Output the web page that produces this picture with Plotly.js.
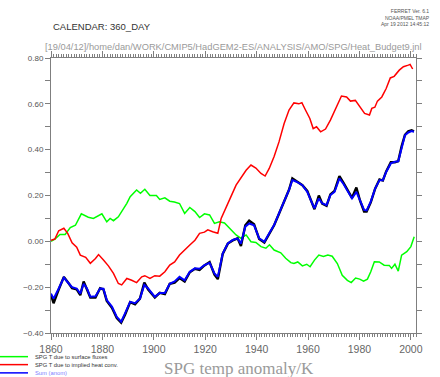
<!DOCTYPE html>
<html>
<head>
<meta charset="utf-8">
<script src="https://cdn.plot.ly/plotly-3.0.1.min.js"></script>
<style>html,body{margin:0;padding:0;background:#fff;}#chart{width:440px;height:377px;}</style>
</head>
<body>
<div id="chart"></div>
<script>
// ---- data ----
const greenYears = [1860,1861.5,1863.5,1865.5,1867.5,1869.5,1871.8,1874.5,1876.5,1878.5,1879.8,1881.7,1883,1884.3,1886.2,1889.5,1890.8,1893.3,1894.8,1896.5,1898.5,1901,1902.3,1904.3,1906.2,1908,1910,1912,1914,1916,1917.8,1919.7,1921.7,1923.6,1925.5,1927.5,1929.4,1932,1933.9,1935.9,1937.8,1939.7,1941.7,1943.6,1945,1946.8,1949.4,1951.3,1953.3,1954.5,1956,1957.8,1959.5,1960.8,1962.5,1964.2,1966,1967.7,1969.4,1971.4,1973.3,1975.3,1976.8,1978.5,1980.1,1981.6,1983.1,1984.4,1985.8,1987.7,1989.6,1991.6,1992.5,1993.8,1995.1,1996.4,1998.4,2000,2001.3];
const greenVals = [0.00,0.01,0.03,0.03,0.06,0.07,0.12,0.105,0.10,0.11,0.12,0.085,0.10,0.09,0.107,0.166,0.195,0.224,0.21,0.227,0.20,0.20,0.183,0.19,0.175,0.172,0.165,0.122,0.148,0.13,0.104,0.12,0.115,0.078,0.085,0.08,0.057,0.028,0.013,0.028,-0.002,-0.005,-0.023,-0.03,-0.015,-0.038,-0.05,-0.074,-0.093,-0.097,-0.09,-0.107,-0.10,-0.111,-0.082,-0.06,-0.066,-0.06,-0.065,-0.097,-0.148,-0.17,-0.18,-0.16,-0.165,-0.174,-0.165,-0.133,-0.089,-0.09,-0.104,-0.105,-0.118,-0.10,-0.13,-0.06,-0.045,-0.023,0.02];

const redYears = [1860,1861.5,1863,1865,1866.5,1868.2,1870,1871.4,1873.5,1875.3,1877.3,1878.5,1880.5,1882.4,1884.3,1886.2,1887.5,1889.5,1891.4,1893.3,1895.3,1896.5,1898.5,1900.4,1902.3,1904.3,1906.2,1908.1,1910,1912,1914,1916,1917.8,1919.7,1921,1922.9,1924.9,1926.2,1928.1,1930,1932,1933.9,1935.9,1937.8,1939.7,1941.7,1943.3,1944.9,1946.8,1948.7,1950.7,1952.6,1954.5,1956.4,1957.6,1959,1960.7,1962,1963.3,1964.9,1966.8,1968.7,1970.7,1973,1975,1976.5,1978.4,1980.3,1982,1983.9,1984.8,1986,1987,1988.7,1990.4,1992,1993.5,1995.5,1997.1,1999,1999.7,2000.7];
const redVals = [0.005,0.01,0.046,0.057,0.035,-0.006,-0.026,-0.06,-0.07,-0.096,-0.075,-0.058,-0.083,-0.108,-0.14,-0.184,-0.19,-0.162,-0.17,-0.18,-0.155,-0.15,-0.162,-0.15,-0.152,-0.133,-0.104,-0.09,-0.06,-0.04,-0.016,0.005,0.035,0.04,0.05,0.042,0.035,0.10,0.144,0.195,0.245,0.275,0.31,0.333,0.32,0.296,0.285,0.318,0.37,0.434,0.514,0.573,0.604,0.60,0.605,0.573,0.536,0.492,0.50,0.478,0.49,0.529,0.58,0.634,0.63,0.612,0.615,0.587,0.558,0.551,0.58,0.585,0.612,0.63,0.667,0.713,0.72,0.747,0.762,0.769,0.772,0.752];

const sumYears = [1860,1861,1863,1865,1867,1868.2,1870,1871.4,1872.7,1874,1875.3,1877.3,1879.1,1880.4,1881.7,1883.7,1885.6,1887.3,1888.8,1890.8,1892.7,1894.6,1896.3,1897.8,1900.4,1902.3,1904.3,1906.2,1908.1,1910,1912,1914,1916,1917.8,1919.7,1921.7,1923.6,1924.9,1926.8,1928.8,1930.7,1932.6,1933.9,1935.6,1937.1,1939,1941,1943,1944.9,1946.8,1948.7,1950.7,1952.6,1953.9,1955.5,1957.8,1959.7,1961.6,1962.5,1964.2,1965.5,1967.2,1968.7,1970.3,1972.2,1973.8,1975.5,1977.1,1978.8,1980.3,1981.8,1982.8,1984.4,1986.1,1987.8,1989.1,1990.4,1992.2,1993.8,1995.1,1996.4,1997.7,1999,2000.3,2001.2];
const sumVals = [-0.228,-0.25,-0.206,-0.158,-0.185,-0.20,-0.206,-0.228,-0.185,-0.206,-0.242,-0.24,-0.206,-0.207,-0.256,-0.285,-0.33,-0.351,-0.314,-0.264,-0.27,-0.25,-0.19,-0.206,-0.242,-0.225,-0.225,-0.185,-0.175,-0.155,-0.17,-0.133,-0.118,-0.12,-0.104,-0.094,-0.14,-0.155,-0.053,-0.009,0.006,0.013,-0.01,0.064,0.078,0.07,0.013,-0.002,0.035,0.071,0.122,0.173,0.224,0.267,0.26,0.245,0.216,0.166,0.144,0.187,0.166,0.158,0.202,0.216,0.275,0.25,0.216,0.187,0.216,0.173,0.137,0.135,0.173,0.23,0.267,0.267,0.303,0.34,0.347,0.349,0.412,0.463,0.475,0.481,0.478];
const totalVals = [-0.235,-0.27,-0.21,-0.155,-0.185,-0.205,-0.21,-0.235,-0.175,-0.21,-0.245,-0.245,-0.205,-0.21,-0.26,-0.29,-0.335,-0.355,-0.32,-0.265,-0.275,-0.25,-0.18,-0.21,-0.245,-0.225,-0.23,-0.185,-0.18,-0.16,-0.175,-0.135,-0.12,-0.125,-0.105,-0.09,-0.145,-0.165,-0.055,-0.01,0.004,0.013,-0.02,0.07,0.09,0.075,0.01,-0.005,0.035,0.07,0.12,0.175,0.225,0.275,0.262,0.245,0.22,0.165,0.14,0.20,0.165,0.155,0.205,0.22,0.285,0.255,0.22,0.19,0.235,0.175,0.13,0.13,0.17,0.23,0.27,0.265,0.305,0.345,0.345,0.35,0.415,0.465,0.48,0.485,0.48];

const legendLabels = ['SPG T due to surface fluxes','SPG T due to implied heat conv.','Sum (anom)'];
const seriesColors = ['#00ff00','#ff0000','#0000ff'];

const traces = [
  {x: greenYears, y: greenVals, mode:'lines', line:{color:seriesColors[0], width:1.5}, name:legendLabels[0]},
  {x: redYears, y: redVals, mode:'lines', line:{color:seriesColors[1], width:1.5}, name:legendLabels[1]},
  {x: sumYears, y: totalVals, mode:'lines', line:{color:'#000000', width:2.4}, name:'total'},
  {x: sumYears, y: sumVals, mode:'lines', line:{color:seriesColors[2], width:2}, name:legendLabels[2]}
];

const gray = '#7f7f7f';
const annotations = [
  {xref:'paper', yref:'paper', x:1.045, y:1.19, xanchor:'right', yanchor:'top', align:'right', showarrow:false,
   text:'FERRET Ver. 6.1<br>NOAA/PMEL TMAP<br>Apr 19 2012 14:45:12', font:{family:'Liberation Sans, Arial', size:5, color:'#555'}},
  {xref:'paper', yref:'paper', x:0, y:1.113, xanchor:'left', yanchor:'middle', showarrow:false,
   text:'CALENDAR: 360_DAY', font:{family:'Liberation Sans, Arial', size:9.5, color:'#333'}},
  {xref:'paper', yref:'paper', x:0.5, y:1.04, xanchor:'center', yanchor:'middle', showarrow:false,
   text:'[19/04/12]/home/dan/WORK/CMIP5/HadGEM2-ES/ANALYSIS/AMO/SPG/Heat_Budget9.jnl', font:{family:'Liberation Sans, Arial', size:9.3, color:'#9a9a9a'}},
  {xref:'paper', yref:'paper', x:0.515, y:-0.128, xanchor:'center', yanchor:'middle', showarrow:false,
   text:'SPG temp anomaly/K', font:{family:'Liberation Serif, serif', size:17, color:'#9a9a9a'}}
];
const shapes = [];
const legendY = [-0.086, -0.115, -0.145];
for (let i = 0; i < 3; i++) {
  shapes.push({type:'line', xref:'paper', yref:'paper', x0:-0.14, x1:-0.063, y0:legendY[i], y1:legendY[i], line:{color:seriesColors[i], width:1.5}});
  annotations.push({xref:'paper', yref:'paper', x:-0.05, y:legendY[i], xanchor:'left', yanchor:'middle', showarrow:false,
    text:legendLabels[i], font:{family:'Liberation Sans, Arial', size:5.8, color: i===2 ? '#8080ff' : '#333'}});
}

const layout = {
  width:440, height:377,
  margin:{l:51, r:24, t:58, b:44},
  paper_bgcolor:'#fff', plot_bgcolor:'#fff',
  showlegend:false,
  xaxis:{range:[1860,2002], tick0:1860, dtick:20, ticks:'outside', ticklen:6, tickcolor:gray,
    showline:true, linecolor:gray, linewidth:1, mirror:'ticks', showgrid:false, zeroline:false,
    tickfont:{family:'Liberation Sans, Arial', size:10.5, color:'#666'},
    minor:{dtick:1, tick0:1860, ticks:'outside', ticklen:3, tickcolor:gray, showgrid:false}},
  yaxis:{range:[-0.40,0.80], tick0:-0.4, dtick:0.2, tickformat:'.2f', ticks:'outside', ticklen:5, tickcolor:gray,
    showline:true, linecolor:gray, linewidth:1, mirror:'ticks', showgrid:false, zeroline:false,
    tickfont:{family:'Liberation Sans, Arial', size:8, color:'#555'},
    minor:{dtick:0.1, ticks:'outside', ticklen:5, tickcolor:gray, showgrid:false}},
  annotations: annotations,
  shapes: shapes
};

Plotly.newPlot('chart', traces, layout, {staticPlot:true, displayModeBar:false});
</script>
</body>
</html>
